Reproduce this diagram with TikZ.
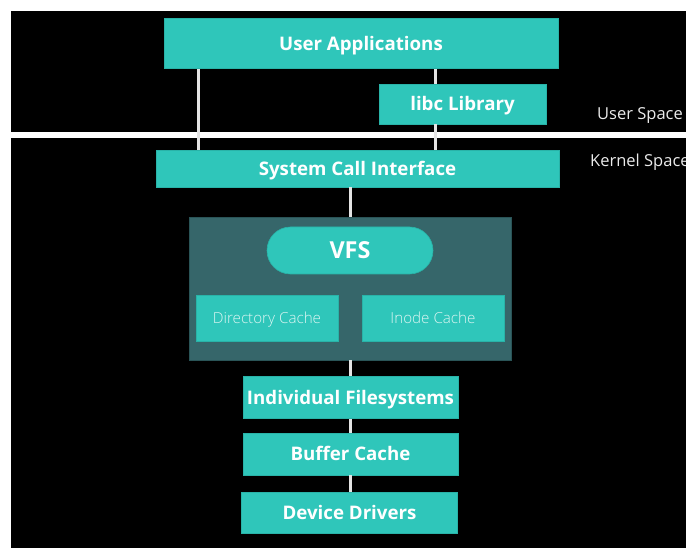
\documentclass[tikz,border=0pt]{standalone}
\usepackage{fontspec}
\setmainfont{Open Sans}
\IfFontExistsTF{Open Sans Light}
  {\newfontfamily\thinfont{Open Sans Light}}
  {\newfontfamily\thinfont{Open Sans}}
\definecolor{tealbox}{HTML}{2FC6BA}
\definecolor{tealedge}{HTML}{29B3A8}
\definecolor{vfsfill}{HTML}{36666A}
\definecolor{vfsedge}{HTML}{2A5457}
\definecolor{linkgray}{HTML}{E4E4E4}
\definecolor{pale}{HTML}{DDF6F3}
\tikzset{
  layer/.style={rectangle, fill=tealbox, draw=tealedge, line width=0.6pt,
    text=white, font=\bfseries\fontsize{18.7}{21}\selectfont, inner sep=0pt,
    text height=13.3pt, text depth=0pt},
  cachebox/.style={rectangle, fill=tealbox, draw=tealedge, line width=0.6pt,
    text=pale, font=\thinfont\fontsize{15.2}{18}\selectfont, inner sep=0pt,
    text height=10.9pt, text depth=0pt,
    minimum width=142pt, minimum height=46pt},
  link/.style={draw=linkgray, line width=3pt},
  spacelabel/.style={text=white!92!black, font=\fontsize{16.5}{19}\selectfont, inner sep=0pt,
    text height=11.8pt, text depth=0pt}
}
\begin{document}
\begin{tikzpicture}[x=1pt,y=-1pt]
  % canvas: white frame, black stage, white user/kernel divider
  \fill[white] (0,0) rectangle (686,548);
  \useasboundingbox (0,0) rectangle (686,548);
  \fill[black] (11,11) rectangle (686,548);
  \fill[white] (11,132) rectangle (686,138);

  % x positions of the vertical connectors
  \coordinate (xa) at (198,0);
  \coordinate (xb) at (435,0);
  \coordinate (xm) at (350,0);

  % user space
  \node[layer, minimum width=394pt, minimum height=50pt] (ua) at (361,43.5) {User Applications};
  \node[layer, minimum width=167pt, minimum height=40pt] (libc) at (462.5,104) {libc Library};
  \node[spacelabel, anchor=west] (us) at (597,113.5) {User Space};

  % kernel space
  \node[layer, minimum width=403pt, minimum height=37pt] (sc) at (357.5,168.5) {System Call Interface};
  \node[spacelabel, anchor=west] (ks) at (590,160.5) {Kernel Space};

  \node[rectangle, fill=vfsfill, draw=vfsedge, line width=0.8pt,
        minimum width=322pt, minimum height=143pt] (vbox) at (350,288.5) {};
  \node[layer, rounded corners=23.5pt, minimum width=166pt, minimum height=47pt,
        font=\bfseries\fontsize{23.4}{26}\selectfont, text height=16.7pt] (vfs) at (350,250.5) {VFS};
  \node[cachebox] (dc) at (267,318) {Directory Cache};
  \node[cachebox] (ic) at (433,318) {Inode Cache};

  \node[layer, minimum width=215pt, minimum height=42pt] (fs) at (350.5,397.5) {Individual Filesystems};
  \node[layer, minimum width=215pt, minimum height=42pt] (bc) at (350.5,454) {Buffer Cache};
  \node[layer, minimum width=216pt, minimum height=41pt] (dd) at (349.5,512.5) {Device Drivers};

  % connectors
  \draw[link] (ua.south -| xa) -- (sc.north -| xa);
  \draw[link] (ua.south -| xb) -- (libc.north -| xb);
  \draw[link] (libc.south -| xb) -- (sc.north -| xb);
  \draw[link] (sc.south -| xm) -- (vbox.north -| xm);
  \draw[link] (vbox.south -| xm) -- (fs.north -| xm);
  \draw[link] (fs.south -| xm) -- (bc.north -| xm);
  \draw[link] (bc.south -| xm) -- (dd.north -| xm);
\end{tikzpicture}
\end{document}
